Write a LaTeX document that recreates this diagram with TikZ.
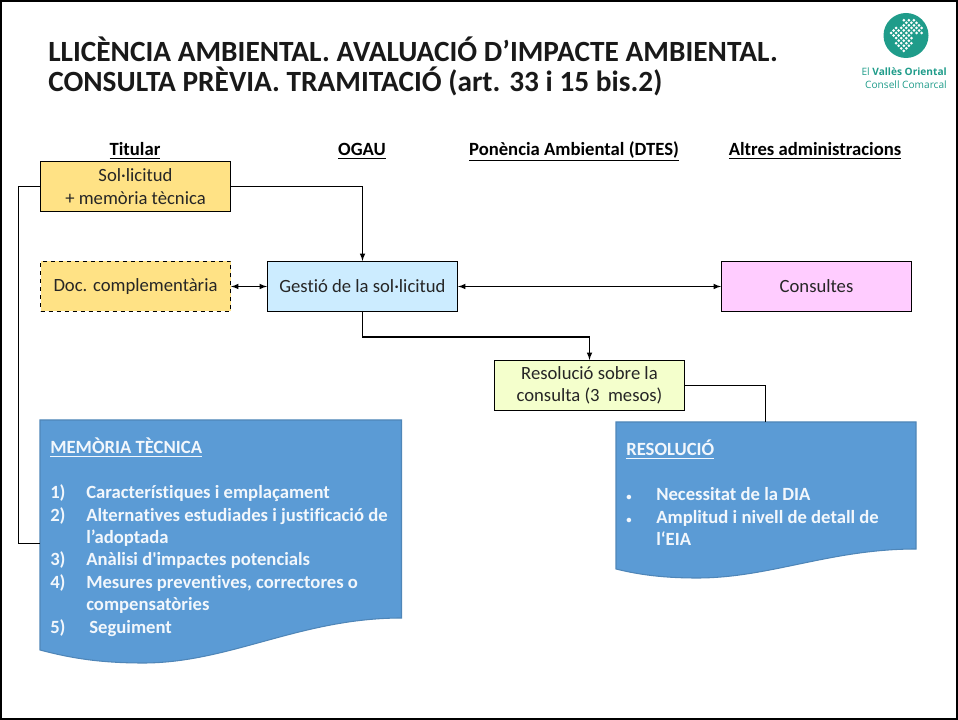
\documentclass[tikz,border=0pt]{standalone}
\usepackage{fontspec}
\setmainfont[Ligatures={NoCommon}]{Carlito}
\newfontfamily\logofont{Open Sans}
\usetikzlibrary{calc}
\definecolor{groc}{HTML}{FFE285}
\definecolor{blaucel}{HTML}{CCECFF}
\definecolor{rosa}{HTML}{FFCCFF}
\definecolor{llima}{HTML}{F4FFCC}
\definecolor{blaudoc}{HTML}{5B9BD5}
\definecolor{voradoc}{HTML}{4F86B8}
\definecolor{verdlogo}{HTML}{1F9C8A}
\newcommand{\tsize}{\fontsize{14}{16.8}\selectfont}
\tikzset{
	caixa/.style={draw=black, line width=0.9pt, minimum width=142.5pt, minimum height=37.5pt, align=center, inner sep=0pt, font=\tsize, text=black!85},
	capcalera/.style={font=\tsize\bfseries, anchor=base},
	document/.style={fill=blaudoc, draw=voradoc, thick},
	textdoc/.style={anchor=north west, align=left, inner sep=0pt, text=white!92!blaudoc, font=\tsize\bfseries},
	zonadoc/.style={inner sep=0pt},
	fletxa/.style={-latex, line width=0.9pt},
	dobleta/.style={latex-latex, line width=0.9pt}
}
\begin{document}
\begin{tikzpicture}[x=0.75pt, y=-0.75pt]
	\useasboundingbox (0,0) rectangle (958,720);
	\draw[black, line width=1.5pt] (1,1) rectangle (957,719);

	% title
	\node[anchor=north west, inner sep=0pt, align=left, font=\fontsize{22}{22.5}\selectfont\bfseries, text=black!90] (titol) at (48,37) {LLICÈNCIA AMBIENTAL. AVALUACIÓ D’IMPACTE AMBIENTAL.\\CONSULTA PRÈVIA. TRAMITACIÓ (art. 33 i 15 bis.2)};

	% logo
	\fill[verdlogo] (906,35.5) circle (22.5);
	\foreach \v/\ulist in {0/{0,1,2,5}, 1/{0,1,2,3,4,5,6}, 2/{0,1,2,3,4,5,6,7}, 3/{-1,0,1,2,3,4,5,6,7}, 4/{-1,0,1,2,3,4,5,6,7}, 5/{-1,0,1,2,3,5,6,7}, 6/{-1,0,1,2,6}}{
		\foreach \u in \ulist {
			\fill[white] ($(891,33)+(\u*2.55,-\u*2.55)+(\v*2.55,\v*2.55)$) ++(-1.5,0) -- ++(1.5,-1.5) -- ++(1.5,1.5) -- ++(-1.5,1.5) -- cycle;
		}
	}
	\node[anchor=north east, inner sep=0pt, text=verdlogo, font=\logofont\fontsize{7.6}{9.75}\selectfont, align=right] (logotext) at (947,67.5) {El \textbf{Vallès Oriental}\\Consell Comarcal};

	% column heads
	\node[capcalera] (titular) at (135,156) {\underline{Titular}};
	\node[capcalera] (ogau) at (362,156) {\underline{OGAU}};
	\node[capcalera] (ponencia) at (574,156) {\underline{Ponència Ambiental (DTES)}};
	\node[capcalera] (altres) at (815,156) {\underline{Altres administracions}};

	% boxes
	\node[caixa, fill=groc] (sollicitud) at (135.5,186.5) {Sol·licitud\\+ memòria tècnica};
	\node[caixa, fill=groc, dashed] (doccompl) at (135.5,286.5) {Doc. complementària};
	\node[caixa, fill=blaucel] (gestio) at (362.5,286.5) {Gestió de la sol·licitud};
	\node[caixa, fill=rosa] (consultes) at (816.5,286.5) {Consultes};
	\node[caixa, fill=llima] (resconsulta) at (589.5,385.5) {Resolució sobre la\\consulta (3~~mesos)};

	% documents
	\draw[document] (40,420) -- (401.5,420) -- (401.5,618) .. controls (300,618) and (230,663) .. (143,663) .. controls (100,663) and (70,658) .. (40,650) -- cycle;
	\draw[document] (616,422) -- (916,422) -- (916,549) .. controls (830,549) and (770,578) .. (697,578) .. controls (665,578) and (640,575) .. (616,569) -- cycle;
	\node[zonadoc, minimum width=271pt, minimum height=172pt] (memoria) at (220.75,535) {};
	\node[zonadoc, minimum width=225pt, minimum height=110pt] (resolucio) at (765.5,495.5) {};
	\node[textdoc] (memoriatext) at (50,438) {\underline{MEMÒRIA TÈCNICA}\\[16.8pt]
		\makebox[27pt][l]{1)}Característiques i emplaçament\\
		\makebox[27pt][l]{2)}Alternatives estudiades i justificació de\\
		\makebox[27pt][l]{}l’adoptada\\
		\makebox[27pt][l]{3)}Anàlisi d{\textquotesingle}impactes potencials\\
		\makebox[27pt][l]{4)}Mesures preventives, correctores o\\
		\makebox[27pt][l]{}compensatòries\\
		\makebox[27pt][l]{5)}\,Seguiment};
	\node[textdoc] (resoluciotext) at (626,440) {\underline{RESOLUCIÓ}\\[16.8pt]
		\makebox[22.5pt][l]{\footnotesize •}Necessitat de la DIA\\
		\makebox[22.5pt][l]{\footnotesize •}Amplitud i nivell de detall de\\
		\makebox[22.5pt][l]{}l‘EIA};

	% connectors
	\coordinate (entradamemoria) at (40,543.5);
	\draw[fletxa] (sollicitud.east) -| (gestio.north);
	\draw[line width=0.9pt] (sollicitud.west) -- ++(-21.5,0) |- (entradamemoria);
	\draw[dobleta] (doccompl) -- (gestio);
	\draw[dobleta] (gestio) -- (consultes);
	\draw[fletxa] (gestio.south) -- ++(0,25) -| (resconsulta.north);
	\draw[line width=0.9pt] (resconsulta.east) -| (resolucio.north);
\end{tikzpicture}
\end{document}
